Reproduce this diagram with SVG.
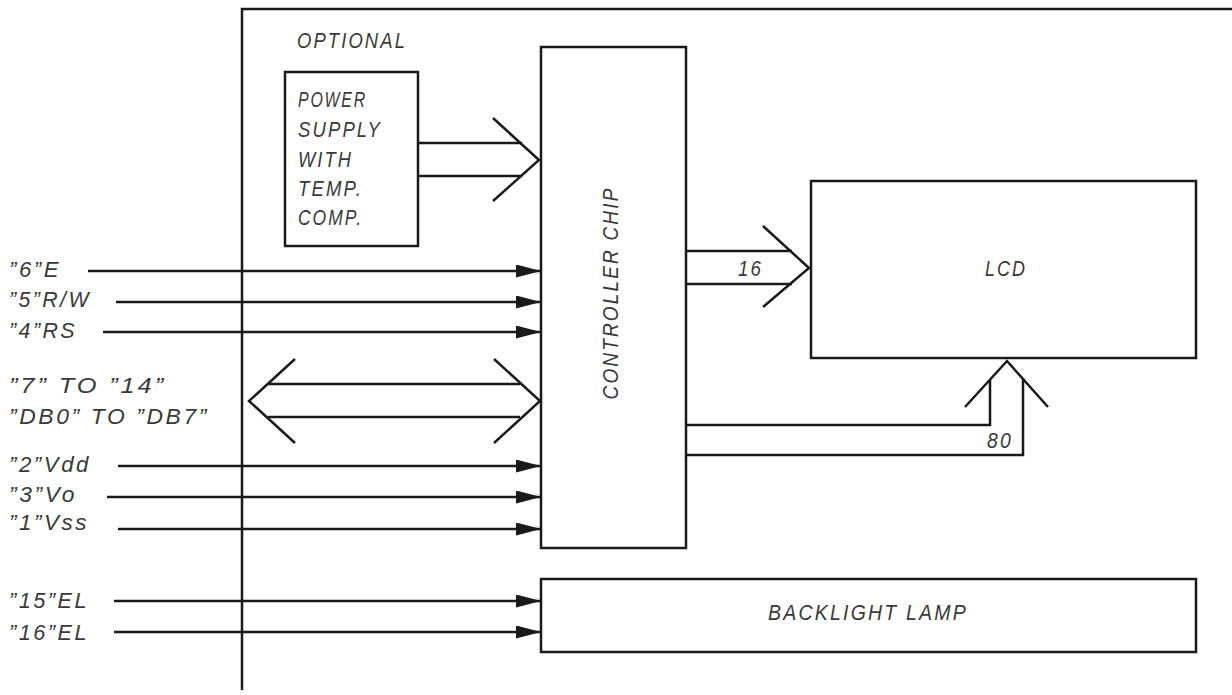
<svg xmlns="http://www.w3.org/2000/svg" width="1232" height="695" viewBox="0 0 1232 695">
<style>
.ln{fill:none;stroke:#1a1a1a;stroke-width:2.5;stroke-linecap:butt;stroke-linejoin:miter}
.bx{fill:#fff;stroke:#1a1a1a;stroke-width:2.5}
.t{font-family:"Liberation Sans",Arial,sans-serif;font-style:italic;font-size:22px;letter-spacing:2.5px;fill:#3a3a3a}
</style>
<defs>
<marker id="ah" markerUnits="userSpaceOnUse" markerWidth="26" markerHeight="14" refX="25" refY="6.5" orient="auto">
<path d="M0,0 L25,6.5 L0,13 z" fill="#1a1a1a"/>
</marker>
</defs>
<g id="frame">
<polyline class="ln" points="242,690 242,9 1232,9"/>
<text class="t" x="297" y="48" textLength="110" lengthAdjust="spacingAndGlyphs">OPTIONAL</text>
</g>
<g id="connectors">
<line class="ln" x1="88" y1="271" x2="541" y2="271" marker-end="url(#ah)"/>
<line class="ln" x1="116" y1="302" x2="541" y2="302" marker-end="url(#ah)"/>
<line class="ln" x1="103" y1="332" x2="541" y2="332" marker-end="url(#ah)"/>
<line class="ln" x1="118" y1="466" x2="541" y2="466" marker-end="url(#ah)"/>
<line class="ln" x1="107" y1="497" x2="541" y2="497" marker-end="url(#ah)"/>
<line class="ln" x1="118" y1="529" x2="541" y2="529" marker-end="url(#ah)"/>
<line class="ln" x1="114" y1="601" x2="541" y2="601" marker-end="url(#ah)"/>
<line class="ln" x1="114" y1="632" x2="541" y2="632" marker-end="url(#ah)"/>
<!-- data bus -->
<line class="ln" x1="268" y1="384" x2="520" y2="384"/>
<line class="ln" x1="268" y1="417" x2="520" y2="417"/>
<polyline class="ln" points="295,359 249,401 295,443"/>
<polyline class="ln" points="494,359 540,401 494,443"/>
<!-- power bus -->
<line class="ln" x1="418" y1="143" x2="522" y2="143"/>
<line class="ln" x1="418" y1="176" x2="522" y2="176"/>
<polyline class="ln" points="493,118 539,160 493,201"/>
<!-- 16 bus -->
<line class="ln" x1="686" y1="251" x2="792" y2="251"/>
<line class="ln" x1="686" y1="284" x2="792" y2="284"/>
<polyline class="ln" points="763,226 809,268 763,307"/>
<text class="t" x="738" y="276" textLength="25" lengthAdjust="spacingAndGlyphs">16</text>
<!-- 80 bus -->
<polyline class="ln" points="686,425 990,425 990,380"/>
<polyline class="ln" points="686,455 1023,455 1023,378"/>
<polyline class="ln" points="965,407 1007,361 1048,407"/>
<text class="t" x="987" y="448" textLength="26" lengthAdjust="spacingAndGlyphs">80</text>
</g>
<g id="labels">
<text class="t" x="9" y="277" textLength="52" lengthAdjust="spacingAndGlyphs">”6”E</text>
<text class="t" x="9" y="307" textLength="82" lengthAdjust="spacingAndGlyphs">”5”R/W</text>
<text class="t" x="9" y="338" textLength="68" lengthAdjust="spacingAndGlyphs">”4”RS</text>
<text class="t" x="9" y="393" textLength="157" lengthAdjust="spacingAndGlyphs">”7” TO ”14”</text>
<text class="t" x="9" y="424" textLength="200" lengthAdjust="spacingAndGlyphs">”DB0” TO ”DB7”</text>
<text class="t" x="9" y="472" textLength="82" lengthAdjust="spacingAndGlyphs">”2”Vdd</text>
<text class="t" x="9" y="502" textLength="68" lengthAdjust="spacingAndGlyphs">”3”Vo</text>
<text class="t" x="9" y="530" textLength="80" lengthAdjust="spacingAndGlyphs">”1”Vss</text>
<text class="t" x="9" y="608" textLength="80" lengthAdjust="spacingAndGlyphs">”15”EL</text>
<text class="t" x="9" y="640" textLength="80" lengthAdjust="spacingAndGlyphs">”16”EL</text>
</g>
<g id="power-supply">
<rect class="bx" x="285" y="72" width="133" height="174"/>
<text class="t" x="298" y="107" textLength="69" lengthAdjust="spacingAndGlyphs">POWER</text>
<text class="t" x="298" y="137" textLength="84" lengthAdjust="spacingAndGlyphs">SUPPLY</text>
<text class="t" x="298" y="167" textLength="55" lengthAdjust="spacingAndGlyphs">WITH</text>
<text class="t" x="298" y="196" textLength="65" lengthAdjust="spacingAndGlyphs">TEMP.</text>
<text class="t" x="298" y="225" textLength="65" lengthAdjust="spacingAndGlyphs">COMP.</text>
</g>
<g id="controller-chip">
<rect class="bx" x="541" y="47" width="145" height="501"/>
<text class="t" transform="translate(618,293) rotate(-90)" x="0" y="0" text-anchor="middle" textLength="213" lengthAdjust="spacingAndGlyphs">CONTROLLER CHIP</text>
</g>
<g id="lcd">
<rect class="bx" x="811" y="181" width="385" height="177"/>
<text class="t" x="985" y="276" textLength="42" lengthAdjust="spacingAndGlyphs">LCD</text>
</g>
<g id="backlight-lamp">
<rect class="bx" x="541" y="579" width="655" height="73"/>
<text class="t" x="768" y="620" textLength="200" lengthAdjust="spacingAndGlyphs">BACKLIGHT LAMP</text>
</g>
</svg>
